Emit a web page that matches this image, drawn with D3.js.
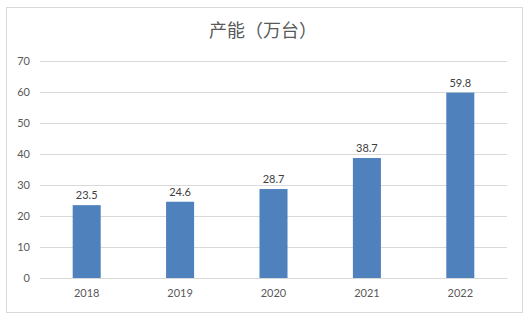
<!DOCTYPE html>
<html>
<head>
<meta charset="utf-8">
<script src="https://cdn.jsdelivr.net/npm/d3@7"></script>
<style>
  body { margin: 0; background: #fff; }
  text { font-family: Lato, "Noto Sans CJK SC", sans-serif; }
</style>
</head>
<body>
<div id="chart"></div>
<script>
const years = ['2018', '2019', '2020', '2021', '2022'];
const capacity = [23.5, 24.6, 28.7, 38.7, 59.8];
const yTicks = [0, 10, 20, 30, 40, 50, 60, 70];
const title = '产能（万台）';

const width = 530;
const height = 323;
const margin = {top: 61, right: 23, bottom: 45, left: 40};

const svg = d3.select('#chart').append('svg')
    .attr('width', width)
    .attr('height', height);

// chart border
svg.append('rect')
    .attr('x', 6.5).attr('y', 7.5)
    .attr('width', 516).attr('height', 305)
    .attr('fill', '#fff')
    .attr('stroke', '#d9d9d9');

const x = d3.scaleBand()
    .domain(years)
    .range([margin.left, width - margin.right])
    .paddingInner(0.7)
    .paddingOuter(0.35);

const y = d3.scaleLinear()
    .domain([0, 70])
    .range([height - margin.bottom, margin.top]);

// gridlines + y labels
const yAxis = g => g
    .attr('transform', `translate(${margin.left},0)`)
    .call(d3.axisLeft(y).tickValues(yTicks).tickSize(-(width - margin.left - margin.right)).tickPadding(10))
    .call(g => g.select('.domain').remove())
    .call(g => g.selectAll('.tick line').attr('stroke', '#d9d9d9'))
    .call(g => g.selectAll('.tick text').attr('fill', '#595959').attr('font-size', '11px'));

svg.append('g').call(yAxis);

svg.append('g')
    .selectAll('rect')
    .data(capacity)
    .join('rect')
    .attr('x', (d, i) => x(years[i]))
    .attr('y', d => y(d))
    .attr('width', x.bandwidth())
    .attr('height', d => y(0) - y(d))
    .attr('fill', '#4f81bd');

svg.append('g')
    .selectAll('text')
    .data(capacity)
    .join('text')
    .attr('x', (d, i) => x(years[i]) + x.bandwidth() / 2)
    .attr('y', d => y(d) - 6)
    .attr('text-anchor', 'middle')
    .attr('font-size', '11px')
    .attr('fill', '#404040')
    .text(d => d.toFixed(1));

const xAxis = g => g
    .attr('transform', `translate(0,${height - margin.bottom})`)
    .call(d3.axisBottom(x).tickSize(0).tickPadding(11))
    .call(g => g.select('.domain').attr('stroke', '#d9d9d9'))
    .call(g => g.selectAll('.tick text').attr('fill', '#595959').attr('font-size', '11px'));

svg.append('g').call(xAxis);

svg.append('text')
    .attr('x', 263)
    .attr('y', 37)
    .attr('text-anchor', 'middle')
    .attr('font-size', '18px')
    .attr('fill', '#595959')
    .style('font-family', '"Noto Sans CJK SC", sans-serif')
    .text(title);
</script>
</body>
</html>
